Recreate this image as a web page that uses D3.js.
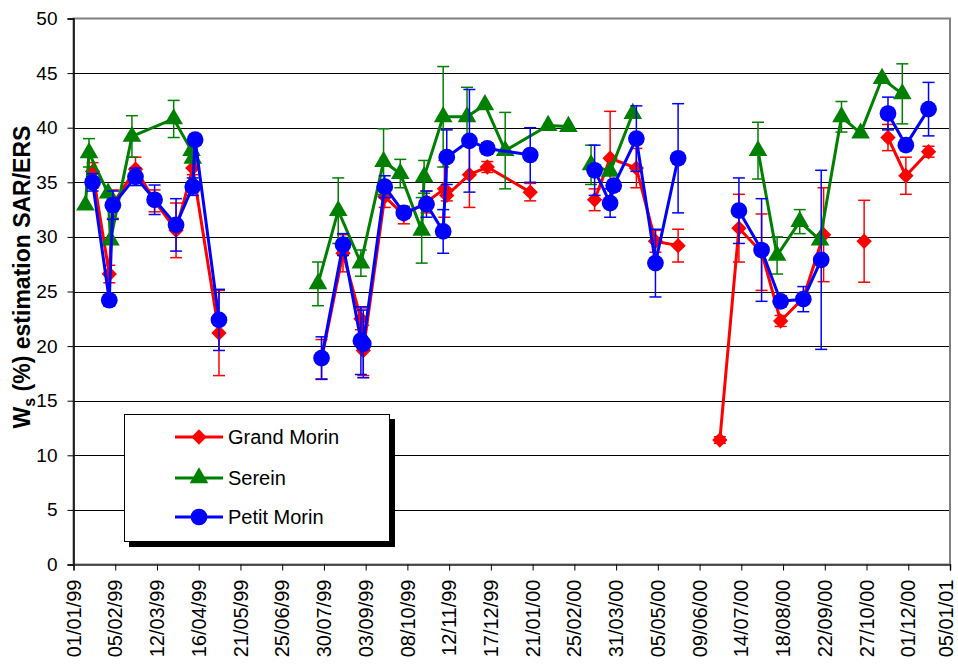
<!DOCTYPE html>
<html>
<head>
<meta charset="utf-8">
<script src="https://cdn.jsdelivr.net/npm/d3@7"></script>
<style>
  body { margin: 0; background: #fff; }
  svg { font-family: "Liberation Sans", Arial, sans-serif; }
</style>
</head>
<body>
<svg width="958" height="664"></svg>
<script>
// x tick labels (every 35 days)
const xTickLabels = ["01/01/99","05/02/99","12/03/99","16/04/99","21/05/99","25/06/99","30/07/99","03/09/99",
  "08/10/99","12/11/99","17/12/99","21/01/00","25/02/00","31/03/00","05/05/00","09/06/00","14/07/00",
  "18/08/00","22/09/00","27/10/00","01/12/00","05/01/01"];
const yTicks = [0, 5, 10, 15, 20, 25, 30, 35, 40, 45, 50];

// Grand Morin (null = break in line)
const gmDates = ["17/01/99","31/01/99","03/02/99","22/02/99","10/03/99","28/03/99","11/04/99","03/05/99", null,
  "28/07/99","15/08/99","30/08/99","01/09/99","19/09/99","05/10/99","24/10/99","08/11/99","10/11/99","29/11/99","14/12/99","19/01/00", null,
  "13/03/00","26/03/00","17/04/00","03/05/00","22/05/00", null,
  "26/06/00","12/07/00","31/07/00","16/08/00","04/09/00","21/09/00", null,
  "25/10/00", null,
  "14/11/00","29/11/00","18/12/00"];
const gmValues = [36.0,26.6,33.0,36.2,33.3,30.6,36.3,21.2, null,
  18.8,28.5,22.5,19.6,33.7,32.0,33.2,34.4,33.8,35.7,36.4,34.1, null,
  33.4,37.2,36.3,29.6,29.2, null,
  11.4,30.8,28.6,22.3,24.4,30.2, null,
  29.6, null,
  39.1,35.6,37.8];
const gmErrors = [0.8,0.8,1.3,1.1,1.0,2.5,0.6,3.9, null,
  1.8,1.7,1.0,2.3,1.0,0.8,1.0,2.6,0.5,3.0,0.5,0.8, null,
  1.0,4.3,1.8,1.0,1.5, null,
  0.3,3.1,3.5,0.5,0.5,4.3, null,
  3.75, null,
  1.2,1.7,0.5];

// Serein
const srDates = ["11/01/99","14/01/99","30/01/99","01/02/99","19/02/99","26/03/99","10/04/99","11/04/99", null,
  "25/07/99","11/08/99","30/08/99","18/09/99","02/10/99","20/10/99","22/10/99","07/11/99","27/11/99","12/12/99","29/12/99","03/02/00","20/02/00", null,
  "10/03/00","26/03/00","14/04/00", null,
  "28/07/00","13/08/00","01/09/00","18/09/00","06/10/00","22/10/00","09/11/00","26/11/00"];
const srValues = [32.9,37.7,34.0,29.7,39.2,40.8,37.9,37.2, null,
  25.7,32.4,27.6,36.9,35.8,30.6,35.5,41.0,41.0,42.1,37.9,40.2,40.1, null,
  36.6,36.0,41.3, null,
  37.9,28.3,31.4,29.7,41.0,39.5,44.5,43.1];
const srErrors = [0,1.3,0,0,1.9,1.7,0,0, null,
  2.0,3.0,1.2,3.0,1.3,3.0,1.5,4.6,2.7,0,3.5,0,0, null,
  1.8,0,0, null,
  2.6,1.7,1.1,0,1.4,0,0,2.75];

// Petit Morin
const pmDates = ["17/01/99","31/01/99","03/02/99","22/02/99","10/03/99","28/03/99","11/04/99","13/04/99","03/05/99", null,
  "28/07/99","15/08/99","30/08/99","01/09/99","19/09/99","05/10/99","24/10/99","07/11/99","10/11/99","29/11/99","14/12/99","19/01/00", null,
  "13/03/00","26/03/00","29/03/00","17/04/00","03/05/00","22/05/00", null,
  "12/07/00","31/07/00","16/08/00","04/09/00","19/09/00", null,
  "14/11/00","29/11/00","18/12/00"];
const pmValues = [35.0,24.2,32.9,35.5,33.4,31.1,34.6,38.9,22.4, null,
  18.9,29.3,20.5,20.2,34.6,32.2,33.0,30.5,37.3,38.8,38.1,37.5, null,
  36.1,33.1,34.7,39.0,27.6,37.2, null,
  32.4,28.8,24.1,24.3,27.9, null,
  41.3,38.4,41.7];
const pmErrors = [0.8,0.5,1.3,0.8,1.35,2.4,0.8,0.5,2.8, null,
  1.95,1.0,3.1,3.1,1.0,0.5,1.2,2.0,2.5,4.7,0.5,2.5, null,
  2.3,1.3,0.5,3.0,3.1,5.0, null,
  3.0,4.7,0.5,1.15,8.2, null,
  1.5,0.5,2.45];

const parse = d3.timeParse("%d/%m/%y");

const series = [
  { name: "Grand Morin", color: "#ff0000", symbol: d3.symbolDiamond2, size: 150, dates: gmDates, values: gmValues, errors: gmErrors },
  { name: "Serein", color: "#008000", symbol: d3.symbolTriangle, size: 150, dates: srDates, values: srValues, errors: srErrors },
  { name: "Petit Morin", color: "#0000ff", symbol: d3.symbolCircle, size: 220, dates: pmDates, values: pmValues, errors: pmErrors }
];
series.forEach(s => {
  s.points = s.dates.map((d, i) => ({ date: d ? parse(d) : null, v: s.values[i], e: s.errors[i] }));
});

const svg = d3.select("svg");
const plotLeft = 73.5, plotRight = 950, plotTop = 18.5, plotBottom = 564.5;

const xTickDates = xTickLabels.map(parse);
const x = d3.scaleTime()
  .domain([xTickDates[0], xTickDates[xTickDates.length - 1]])
  .range([plotLeft, plotRight]);
const y = d3.scaleLinear().domain([0, 50]).range([plotBottom, plotTop]);

// gridlines
svg.append("g")
  .selectAll("line")
  .data(yTicks.filter(t => t > 0 && t < 50))
  .join("line")
  .attr("x1", plotLeft).attr("x2", plotRight)
  .attr("y1", d => Math.round(y(d)) + 0.5).attr("y2", d => Math.round(y(d)) + 0.5)
  .attr("stroke", "#000").attr("stroke-width", 1);

// plot border (top/right gray)
svg.append("rect")
  .attr("x", plotLeft).attr("y", plotTop)
  .attr("width", plotRight - plotLeft).attr("height", plotBottom - plotTop)
  .attr("fill", "none").attr("stroke", "#808080").attr("stroke-width", 2);

// y axis
const yAxis = svg.append("g")
  .attr("transform", `translate(${plotLeft},0)`)
  .call(d3.axisLeft(y).tickValues(yTicks).tickSize(6).tickPadding(10));
yAxis.select(".domain").attr("stroke", "#000").attr("stroke-width", 1.5);
yAxis.selectAll(".tick line").attr("stroke", "#000");
yAxis.selectAll("text").attr("font-size", 19).attr("fill", "#000")
  .attr("font-family", "Liberation Sans, Arial, sans-serif");

// x axis
const xAxis = svg.append("g")
  .attr("transform", `translate(0,${plotBottom})`)
  .call(d3.axisBottom(x).tickValues(xTickDates).tickSize(6)
    .tickFormat((d, i) => xTickLabels[i]));
xAxis.select(".domain").attr("stroke", "#333").attr("stroke-width", 1.5);
xAxis.selectAll(".tick line").attr("stroke", "#000");
xAxis.selectAll("text")
  .attr("font-size", 20).attr("fill", "#000")
  .attr("font-family", "Liberation Sans, Arial, sans-serif")
  .attr("transform", "rotate(-90)")
  .attr("x", -15)
  .attr("y", (d, i) => i === xTickLabels.length - 1 ? -4 : 0)
  .attr("dy", "0.33em")
  .style("text-anchor", "end");

// y title
svg.append("text")
  .attr("transform", "translate(30,277) rotate(-90)")
  .attr("text-anchor", "middle")
  .attr("font-size", 23).attr("font-weight", "bold")
  .call(t => {
    t.append("tspan").text("W");
    t.append("tspan").attr("font-size", 16).attr("dy", 5).text("s");
    t.append("tspan").attr("dy", -5).text(" (%) estimation SAR/ERS");
  });

// series
const line = d3.line()
  .defined(d => d.v != null)
  .x(d => x(d.date))
  .y(d => y(d.v));

series.forEach(s => {
  const g = svg.append("g");
  const pts = s.points.filter(d => d.v != null);

  g.append("path")
    .datum(s.points)
    .attr("d", line)
    .attr("fill", "none")
    .attr("stroke", s.color)
    .attr("stroke-width", 3)
    .attr("stroke-linejoin", "round");

  const eb = g.selectAll(".eb")
    .data(pts.filter(d => d.e > 0))
    .join("g")
    .attr("stroke", s.color)
    .attr("stroke-width", 1.5);
  eb.append("line")
    .attr("x1", d => x(d.date)).attr("x2", d => x(d.date))
    .attr("y1", d => y(d.v - d.e)).attr("y2", d => y(d.v + d.e));
  eb.append("line")
    .attr("x1", d => x(d.date) - 6).attr("x2", d => x(d.date) + 6)
    .attr("y1", d => y(d.v + d.e)).attr("y2", d => y(d.v + d.e));
  eb.append("line")
    .attr("x1", d => x(d.date) - 6).attr("x2", d => x(d.date) + 6)
    .attr("y1", d => y(d.v - d.e)).attr("y2", d => y(d.v - d.e));

  g.selectAll(".mk")
    .data(pts)
    .join("path")
    .attr("transform", d => `translate(${x(d.date)},${y(d.v)})`)
    .attr("d", d3.symbol(s.symbol, s.size))
    .attr("fill", s.color);
});

// legend
const lg = svg.append("g");
lg.append("rect").attr("x", 129).attr("y", 419).attr("width", 266).attr("height", 128).attr("fill", "#000");
lg.append("rect").attr("x", 124.5).attr("y", 414.5).attr("width", 265).attr("height", 127)
  .attr("fill", "#fff").attr("stroke", "#000").attr("stroke-width", 1);
const rowY = [437, 478, 517];
series.forEach((s, i) => {
  lg.append("line")
    .attr("x1", 175).attr("x2", 223)
    .attr("y1", rowY[i]).attr("y2", rowY[i])
    .attr("stroke", s.color).attr("stroke-width", 3);
  lg.append("path")
    .attr("transform", `translate(199,${rowY[i]})`)
    .attr("d", d3.symbol(s.symbol, s.size))
    .attr("fill", s.color);
  lg.append("text")
    .attr("x", 228).attr("y", rowY[i]).attr("dy", "0.36em")
    .attr("font-size", 20).attr("fill", "#000")
    .text(s.name);
});
</script>
</body>
</html>
